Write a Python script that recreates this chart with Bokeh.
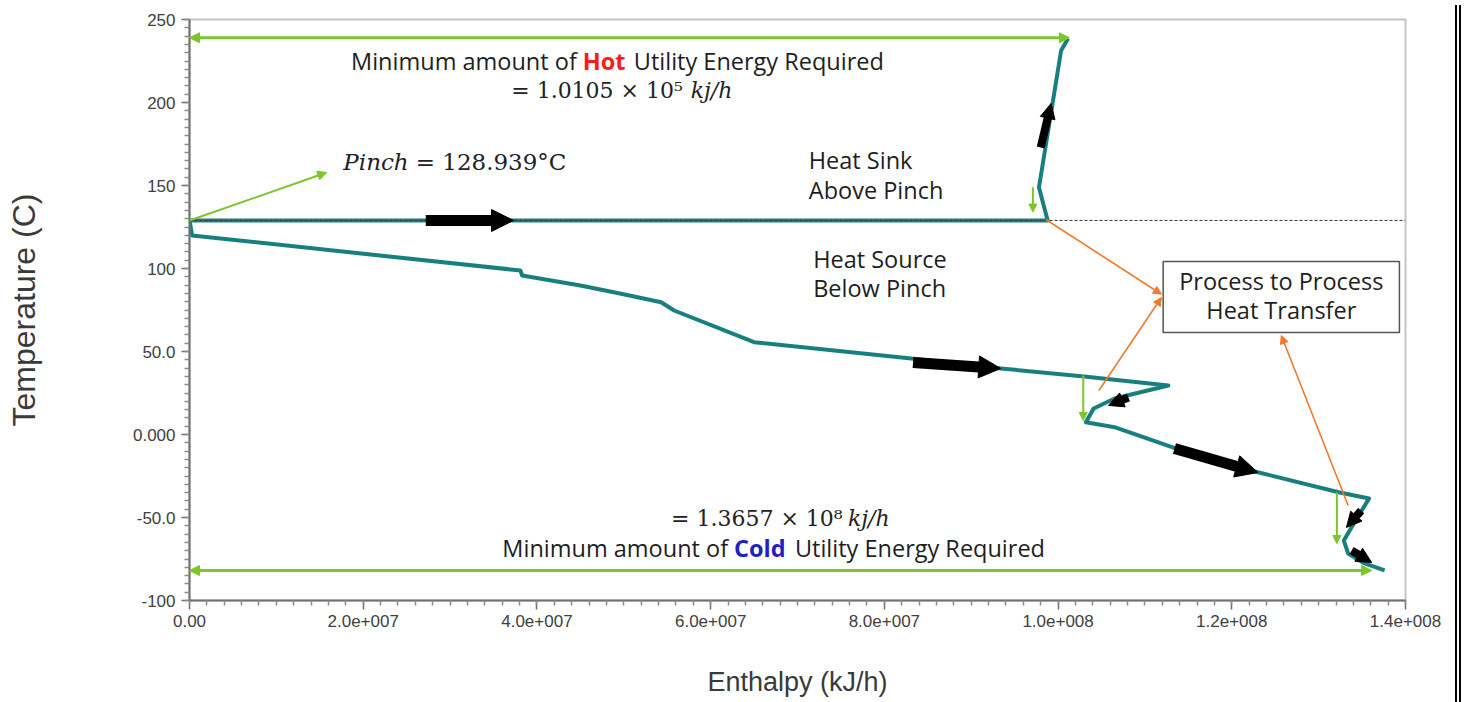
import numpy as np
from bokeh.plotting import figure
from bokeh.layouts import row
from bokeh.models import (Range1d, FixedTicker, Arrow, NormalHead, Span, Label,
                          BoxAnnotation, ColumnDataSource, Div)
from bokeh.embed import file_html
from bokeh.resources import INLINE

# ---------------- data ----------------
# Grand composite curve: enthalpy (1e6 kJ/h) and temperature (C)
gcc_h = [101.15, 100.35, 97.8, 98.8, 0.0, 0.3, 38.1, 38.3, 45.0, 49.7, 54.3, 55.8,
         65.0, 83.1, 93.4, 103.0, 112.7, 106.5, 104.1, 103.2, 106.5, 114.2, 122.2,
         132.3, 135.8, 133.8, 132.9, 133.4, 135.3, 137.6]
gcc_t = [238.6, 231.3, 148.8, 128.939, 128.939, 119.9, 98.8, 95.8, 89.8, 84.8, 79.7,
         74.7, 55.6, 45.8, 39.8, 34.9, 29.5, 21.7, 15.7, 7.4, 4.4, -9.6, -21.7,
         -34.8, -38.6, -55.8, -63.9, -71.7, -77.7, -81.9]

pinch_t = 128.939
hot_utility_end = 101.3    # 1e6 kJ/h, end of hot utility arrow
hot_utility_t = 239.0
cold_utility_end = 136.1   # 1e6 kJ/h, end of cold utility arrow
cold_utility_t = -81.9

x_ticks = [0, 2e7, 4e7, 6e7, 8e7, 1e8, 1.2e8, 1.4e8]
x_tick_labels = ["0.00", "2.0e+007", "4.0e+007", "6.0e+007", "8.0e+007",
                 "1.0e+008", "1.2e+008", "1.4e+008"]
y_ticks = [-100, -50, 0, 50, 100, 150, 200, 250]
y_tick_labels = ["-100", "-50.0", "0.000", "50.0", "100", "150", "200", "250"]

# flow direction arrows along the curve (1e6 kJ/h, C)
big_x0 = [27.2, 83.3, 113.4]
big_y0 = [128.939, 43.4, -8.4]
big_x1 = [37.3, 93.4, 123.0]
big_y1 = [128.939, 39.8, -22.9]
small_x0 = [108.1, 134.9, 133.8, 98.0]
small_y0 = [22.3, -45.8, -69.9, 172.9]
small_x1 = [105.8, 133.2, 136.1, 99.2]
small_y1 = [17.5, -56.0, -77.1, 199.4]

# small green drop arrows
drop_x = [97.1, 102.9, 132.1]
drop_y0 = [149.0, 35.5, -34.8]
drop_y1 = [134.0, 8.4, -65.7]

# orange pointer arrows
or_x0 = [98.6, 104.7, 133.4]
or_y0 = [129.5, 26.5, -42.8]
or_x1 = [111.9, 111.9, 125.7]
or_y1 = [84.5, 82.5, 59.6]

M = 1e6

# ---------------- figure ----------------
p = figure(width=1450, height=702, x_range=Range1d(0, 1.4e8), y_range=Range1d(-100, 250),
           output_backend="svg", toolbar_location=None,
           min_border_left=189, min_border_top=19, min_border_right=45, min_border_bottom=102)
p.background_fill_color = "white"
p.border_fill_color = "white"
p.outline_line_color = "#c4c4c4"
p.outline_line_width = 2
p.xgrid.visible = False
p.ygrid.visible = False

tick_font = "Liberation Sans"
for ax in (p.xaxis[0], p.yaxis[0]):
    ax.axis_line_color = "#707070"
    ax.axis_line_width = 2
    ax.major_tick_line_color = "#707070"
    ax.minor_tick_line_color = "#8a8a8a"
    ax.major_tick_line_width = 1.5
    ax.minor_tick_line_width = 1.5
    ax.major_tick_in = 0
    ax.minor_tick_in = 0
    ax.major_label_text_font = tick_font
    ax.major_label_text_font_size = "17px"
    ax.major_label_text_color = "#404040"
    ax.axis_label_text_font = tick_font
    ax.axis_label_text_font_style = "normal"
    ax.axis_label_text_color = "#3a3a3a"

p.xaxis.ticker = FixedTicker(ticks=x_ticks, minor_ticks=list(np.arange(0, 1.4e8 + 1, 2e6)))
p.yaxis.ticker = FixedTicker(ticks=y_ticks, minor_ticks=list(np.arange(-100, 251, 5)))
p.xaxis.major_label_overrides = {int(t): l for t, l in zip(x_ticks, x_tick_labels)}
p.yaxis.major_label_overrides = {int(t): l for t, l in zip(y_ticks, y_tick_labels)}
p.xaxis.major_tick_out = 9
p.xaxis.minor_tick_out = 5
p.yaxis.major_tick_out = 8
p.yaxis.minor_tick_out = 5
p.xaxis.major_label_standoff = 5
p.yaxis.major_label_standoff = 6
p.xaxis.axis_label = "Enthalpy (kJ/h)"
p.yaxis.axis_label = "Temperature (C)"
p.xaxis.axis_label_text_font_size = "27px"
p.yaxis.axis_label_text_font_size = "32px"
p.xaxis.axis_label_standoff = 37
p.yaxis.axis_label_standoff = 88

# ---------------- curve ----------------
teal = "#17807f"
p.line([h * M for h in gcc_h], gcc_t, line_color=teal, line_width=4, line_join="round")

# pinch dashed line
p.add_layout(Span(location=pinch_t, dimension="width", line_color="#3a3a3a",
                  line_dash="3 2", line_width=1))

# ---------------- flow arrows ----------------
p.add_layout(Arrow(end=NormalHead(size=22, fill_color="black", line_color="black", line_width=1),
                   source=ColumnDataSource(dict(x0=[v * M for v in big_x0], y0=big_y0,
                                                x1=[v * M for v in big_x1], y1=big_y1)),
                   x_start="x0", y_start="y0", x_end="x1", y_end="y1",
                   line_color="black", line_width=11))
p.add_layout(Arrow(end=NormalHead(size=15, fill_color="black", line_color="black", line_width=1),
                   source=ColumnDataSource(dict(x0=[v * M for v in small_x0], y0=small_y0,
                                                x1=[v * M for v in small_x1], y1=small_y1)),
                   x_start="x0", y_start="y0", x_end="x1", y_end="y1",
                   line_color="black", line_width=8))

green = "#7cc52b"
# hot / cold utility arrows
p.add_layout(Arrow(start=NormalHead(size=10, fill_color=green, line_color=green),
                   end=NormalHead(size=10, fill_color=green, line_color=green),
                   x_start=0, y_start=hot_utility_t, x_end=hot_utility_end * M, y_end=hot_utility_t,
                   line_color=green, line_width=3))
p.add_layout(Arrow(start=NormalHead(size=10, fill_color=green, line_color=green),
                   end=NormalHead(size=10, fill_color=green, line_color=green),
                   x_start=0, y_start=cold_utility_t, x_end=cold_utility_end * M, y_end=cold_utility_t,
                   line_color=green, line_width=3))
# pinch pointer
p.add_layout(Arrow(end=NormalHead(size=9, fill_color=green, line_color=green),
                   x_start=0, y_start=pinch_t, x_end=15.8 * M, y_end=157.8,
                   line_color=green, line_width=2))
# drop arrows
p.add_layout(Arrow(end=NormalHead(size=8, fill_color=green, line_color=green),
                   source=ColumnDataSource(dict(x=[v * M for v in drop_x], y0=drop_y0, y1=drop_y1)),
                   x_start="x", y_start="y0", x_end="x", y_end="y1",
                   line_color=green, line_width=2))

orange = "#f07a2c"
p.add_layout(Arrow(end=NormalHead(size=8, fill_color=orange, line_color=orange),
                   source=ColumnDataSource(dict(x0=[v * M for v in or_x0], y0=or_y0,
                                                x1=[v * M for v in or_x1], y1=or_y1)),
                   x_start="x0", y_start="y0", x_end="x1", y_end="y1",
                   line_color=orange, line_width=1.6))

# box
p.add_layout(BoxAnnotation(left=112.1 * M, right=139.3 * M, bottom=61.4, top=104.2,
                           fill_color="white", fill_alpha=1.0, line_color="#555555",
                           line_width=1.5, line_alpha=1.0))

# ---------------- texts ----------------
sans = "Open Sans"
serif = "DejaVu Serif"
txt_col = "#1e1e1e"
fs = "23.5px"


def lab(x, y, text, align="left", font=sans, size=fs, color=txt_col, style="normal", xoff=0):
    p.add_layout(Label(x=x * M, y=y, text=text, text_align=align, text_baseline="middle",
                       text_font=font, text_font_size=size, text_color=color,
                       text_font_style=style, x_offset=xoff))


# hot utility
lab(45.28, 225.3, "Minimum amount of", align="right", xoff=-6)
lab(45.28, 225.3, "Hot", color="#ff1a1a", style="bold")
lab(50.0, 225.3, "Utility Energy Required", xoff=10)
lab(56.8, 207.2, "= 1.0105 × 10⁵", align="right", font=serif, size="22px", color="#222222")
lab(57.7, 207.2, "kj/h", font=serif, size="22px", color="#222222", style="italic")

# pinch
lab(25.23, 163.9, "Pinch", align="right", font=serif, size="23px", color="#222222", style="italic")
lab(26.04, 163.9, "= 128.939°C", font=serif, size="23px", color="#222222")

# regions
lab(71.3, 165.3, "Heat Sink")
lab(71.3, 147.3, "Above Pinch")
lab(71.8, 106.0, "Heat Source")
lab(71.8, 88.0, "Below Pinch")

# box text
lab(125.7, 92.2, "Process to Process", align="center")
lab(125.7, 74.7, "Heat Transfer", align="center")

# cold utility
lab(75.2, -50.6, "= 1.3657 × 10⁸", align="right", font=serif, size="22px", color="#222222")
lab(75.8, -50.6, "kj/h", font=serif, size="22px", color="#222222", style="italic")
lab(62.7, -68.1, "Minimum amount of", align="right", xoff=-6)
lab(62.7, -68.1, "Cold", color="#1f1fc4", style="bold")
lab(68.55, -68.1, "Utility Energy Required", xoff=10)

edge = Div(text="", width=10, height=702,
           styles={"border-left": "6px double black", "box-sizing": "border-box"})

layout = row(p, edge)

with open("out.html", "w", encoding="utf-8") as f:
    f.write(file_html(layout, INLINE))
